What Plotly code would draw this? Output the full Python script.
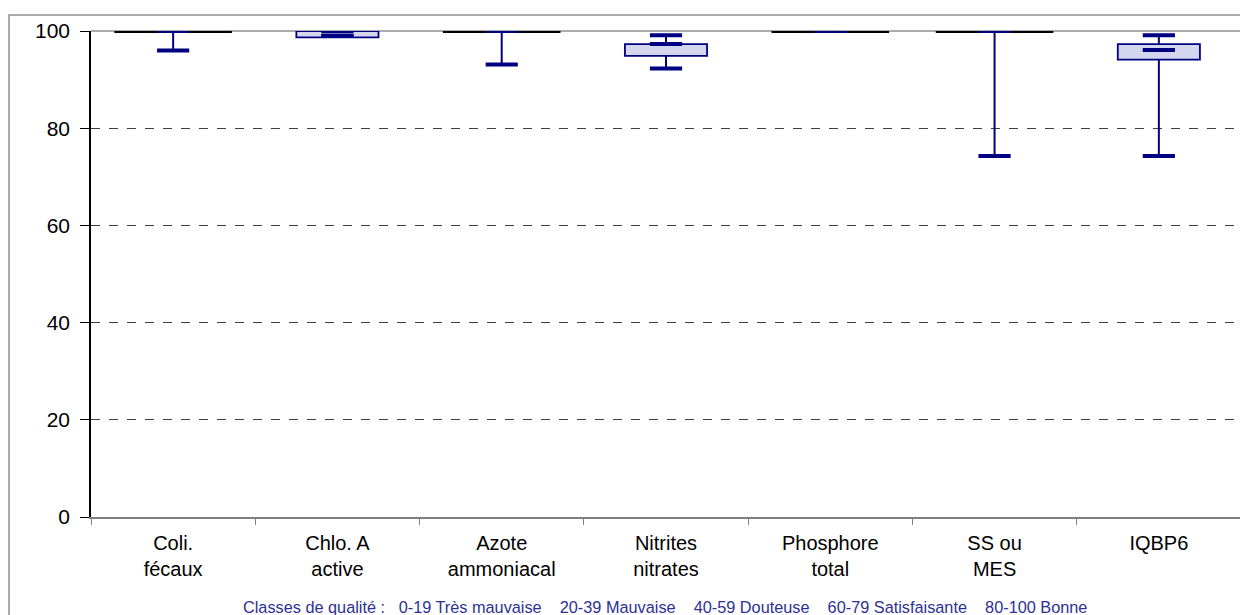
import plotly.graph_objects as go

categories = ["Coli.<br>fécaux", "Chlo. A<br>active", "Azote<br>ammoniacal", "Nitrites<br>nitrates",
              "Phosphore<br>total", "SS ou<br>MES", "IQBP6"]
minimum = [96.0, 99.0, 93.1, 92.3, 100.0, 74.3, 74.3]
q1 = [100.0, 98.7, 100.0, 94.9, 100.0, 100.0, 94.1]
median = [100.0, 99.0, 100.0, 97.3, 100.0, 100.0, 96.1]
q3 = [100.0, 100.0, 100.0, 97.3, 100.0, 100.0, 97.3]
maximum = [100.0, 100.0, 100.0, 99.1, 100.0, 100.0, 99.1]
y_ticks = [0, 20, 40, 60, 80, 100]
footer = ("Classes de qualité :   0-19 Très mauvaise    20-39 Mauvaise    "
          "40-59 Douteuse    60-79 Satisfaisante    80-100 Bonne")

NAVY = "#000080"
W, H = 1240, 607          # page body has an 8px margin
L, R, T, B = 83, 7, 23, 98
pw, ph = W - L - R, H - T - B

fig = go.Figure()

# boxes (q1..q3)
fig.add_trace(go.Bar(
    x=categories, y=[b - a for a, b in zip(q1, q3)], base=q1, width=0.5,
    marker=dict(color="#D3D6EE", line=dict(color=NAVY, width=1.8)),
    hoverinfo="skip", showlegend=False))

# upper whiskers
fig.add_trace(go.Scatter(
    x=categories, y=q3, mode="markers",
    marker=dict(size=1, color="rgba(0,0,0,0)"),
    error_y=dict(type="data", symmetric=False,
                 array=[m - q for m, q in zip(maximum, q3)],
                 arrayminus=[0] * len(q3), width=0, thickness=2, color=NAVY),
    showlegend=False, hoverinfo="skip"))
# lower whiskers
fig.add_trace(go.Scatter(
    x=categories, y=q1, mode="markers",
    marker=dict(size=1, color="rgba(0,0,0,0)"),
    error_y=dict(type="data", symmetric=False,
                 array=[0] * len(q1),
                 arrayminus=[q - m for m, q in zip(minimum, q1)], width=0, thickness=2, color=NAVY),
    showlegend=False, hoverinfo="skip"))

# collapsed boxes drawn as black bars
flat_x = [c for c, a, b in zip(categories, q1, q3) if a == b]
flat_y = [b for a, b in zip(q1, q3) if a == b]
fig.add_trace(go.Scatter(
    x=flat_x, y=flat_y, mode="markers",
    marker=dict(symbol="line-ew", size=84, line=dict(color="black", width=4)),
    showlegend=False, hoverinfo="skip"))

# whisker caps
fig.add_trace(go.Scatter(
    x=categories + categories, y=maximum + minimum, mode="markers",
    marker=dict(symbol="line-ew", size=23, line=dict(color=NAVY, width=4)),
    showlegend=False, hoverinfo="skip"))

# medians (only inside non-collapsed boxes)
med_x = [c for c, a, b in zip(categories, q1, q3) if a != b]
med_y = [m for m, a, b in zip(median, q1, q3) if a != b]
fig.add_trace(go.Scatter(
    x=med_x, y=med_y, mode="markers",
    marker=dict(symbol="line-ew", size=23, line=dict(color=NAVY, width=4)),
    showlegend=False, hoverinfo="skip"))

FAM = "Liberation Sans, Arial, sans-serif"
xfont = dict(family=FAM, size=20, color="black")
yfont = dict(family=FAM, size=21, color="black")

fig.update_layout(
    width=W, height=H,
    margin=dict(l=L, r=R, t=T, b=B),
    paper_bgcolor="white", plot_bgcolor="white",
    font=xfont,
    xaxis=dict(type="category", range=[-0.5, len(categories) - 0.5],
               showline=True, linecolor="#808080", linewidth=1.5,
               ticks="outside", tickson="boundaries", ticklen=6, tickcolor="#808080",
               showgrid=False, tickfont=xfont, ticklabelstandoff=7, fixedrange=True),
    yaxis=dict(range=[0, 100], tickvals=y_ticks, showline=True, linecolor="black", linewidth=1.5,
               ticks="outside", ticklen=9, tickcolor="black", tickfont=yfont, ticklabelstandoff=6,
               showgrid=True, gridcolor="#404040", griddash="dash", gridwidth=1,
               zeroline=False, fixedrange=True),
    shapes=[
        # plot area top & right border
        dict(type="line", xref="paper", yref="paper", x0=0, x1=1, y0=1, y1=1,
             line=dict(color="#909090", width=1.5), layer="below"),
        dict(type="line", xref="paper", yref="paper", x0=1, x1=1, y0=0, y1=1,
             line=dict(color="#909090", width=1.5), layer="below"),
        # outer chart frame
        dict(type="rect", xref="paper", yref="paper",
             x0=(1 - L) / pw, x1=(W + 5 - L) / pw,
             y0=-(H + 5 - (H - B)) / ph, y1=((H - B) - 7) / ph,
             line=dict(color="#909090", width=1.5), fillcolor="rgba(0,0,0,0)", layer="below"),
    ],
    annotations=[
        dict(text=footer, xref="paper", yref="paper", x=(657 - L) / pw, y=-(599 - (H - B)) / ph,
             xanchor="center", yanchor="middle", showarrow=False,
             font=dict(family=FAM, size=16.3, color="#2E3192")),
    ],
)

fig.write_html("out.html")
